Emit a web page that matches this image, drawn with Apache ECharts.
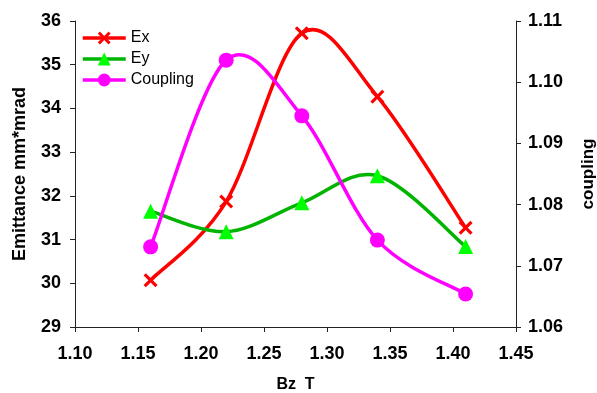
<!DOCTYPE html>
<html>
<head>
<meta charset="utf-8">
<script src="https://cdn.jsdelivr.net/npm/echarts@6/dist/echarts.min.js"></script>
<style>html,body{margin:0;padding:0;background:#fff;}#c{width:597px;height:393px;}</style>
</head>
<body>
<div id="c"></div>
<script>
const bz = [1.16, 1.22, 1.28, 1.34, 1.41];
const ex = [30.07, 31.87, 35.72, 34.27, 31.27];
const ey = [31.65, 31.18, 31.84, 32.46, 30.84];
const coupling = [1.0731, 1.1036, 1.0945, 1.0742, 1.0654];
const xTicks = [1.10, 1.15, 1.20, 1.25, 1.30, 1.35, 1.40, 1.45];

const pair = (xs, ys) => xs.map((x, i) => [x, ys[i]]);
const crossPath = 'path://M0,1.6L1.6,0L5,3.4L8.4,0L10,1.6L6.6,5L10,8.4L8.4,10L5,6.6L1.6,10L0,8.4L3.4,5Z';
const font = 'Arial, "Liberation Sans", sans-serif';
const LW = 3.5;

// Excel-like smoothed curve (Catmull-Rom style Bezier) drawn through the axis scales
function smoothCurve(name, data, color, yAxisIndex) {
  return {
    name: name + '_curve', type: 'custom', yAxisIndex: yAxisIndex, z: 1,
    data: data, encode: { x: 0, y: 1 }, silent: true,
    renderItem: function (params, api) {
      const i = params.dataIndex, n = data.length;
      if (i >= n - 1) return null;
      const P = data.map(d => api.coord(d));
      const p0 = P[Math.max(i - 1, 0)], p1 = P[i], p2 = P[i + 1], p3 = P[Math.min(i + 2, n - 1)];
      return {
        type: 'bezierCurve',
        shape: {
          x1: p1[0], y1: p1[1], x2: p2[0], y2: p2[1],
          cpx1: p1[0] + (p2[0] - p0[0]) / 6, cpy1: p1[1] + (p2[1] - p0[1]) / 6,
          cpx2: p2[0] - (p3[0] - p1[0]) / 6, cpy2: p2[1] - (p3[1] - p1[1]) / 6
        },
        style: { stroke: color, lineWidth: LW, fill: 'none', lineCap: 'round' }
      };
    }
  };
}

const chart = echarts.init(document.getElementById('c'));
chart.setOption({
  animation: false,
  backgroundColor: '#fff',
  textStyle: { fontFamily: font },
  grid: { left: 75, right: 81, top: 21, bottom: 66, outerBoundsMode: 'none', containLabel: false },
  legend: {
    orient: 'vertical', left: 76, top: 25,
    itemWidth: 43, itemHeight: 16, itemGap: 5,
    lineStyle: { opacity: 1, width: LW },
    textStyle: { fontSize: 16, color: '#000', fontFamily: font },
    data: ['Ex', 'Ey', 'Coupling']
  },
  xAxis: {
    type: 'value', min: xTicks[0], max: xTicks[xTicks.length - 1], interval: 0.05,
    name: 'Bz  T', nameLocation: 'middle', nameGap: 50,
    nameTextStyle: { fontSize: 16, fontWeight: 'bold', color: '#000', fontFamily: font },
    axisLine: { lineStyle: { color: '#222', width: 1 } },
    axisTick: { show: true, length: 5, lineStyle: { color: '#222' } },
    axisLabel: { margin: 18, fontSize: 18, fontWeight: 'bold', color: '#000', formatter: v => v.toFixed(2) },
    splitLine: { show: false }
  },
  yAxis: [{
    type: 'value', min: 29, max: 36, interval: 1, position: 'left',
    name: 'Emittance mm*mrad', nameLocation: 'middle', nameGap: 46, nameRotate: 90,
    nameTextStyle: { fontSize: 18, fontWeight: 'bold', color: '#000', fontFamily: font },
    axisLine: { show: true, lineStyle: { color: '#222', width: 1 } },
    axisTick: { show: true, length: 5, lineStyle: { color: '#222' } },
    axisLabel: { margin: 14, fontSize: 18, fontWeight: 'bold', color: '#000' },
    splitLine: { show: false }
  }, {
    type: 'value', min: 1.06, max: 1.11, interval: 0.01, position: 'right',
    name: 'coupling', nameLocation: 'middle', nameGap: 64, nameRotate: 90,
    nameTextStyle: { fontSize: 17, fontWeight: 'bold', color: '#000', fontFamily: font },
    axisLine: { show: true, lineStyle: { color: '#222', width: 1 } },
    axisTick: { show: true, length: 5, lineStyle: { color: '#222' } },
    axisLabel: { margin: 12, fontSize: 18, fontWeight: 'bold', color: '#000', formatter: v => v.toFixed(2) },
    splitLine: { show: false }
  }],
  series: [
    smoothCurve('Ex', pair(bz, ex), '#ff0000', 0),
    smoothCurve('Ey', pair(bz, ey), '#00b400', 0),
    smoothCurve('Coupling', pair(bz, coupling), '#ff00ff', 1),
    {
      name: 'Ex', type: 'line', yAxisIndex: 0, data: pair(bz, ex), z: 3,
      symbol: crossPath, symbolSize: 14,
      lineStyle: { color: '#ff0000', width: LW, opacity: 0 },
      itemStyle: { color: '#ff0000' }
    }, {
      name: 'Ey', type: 'line', yAxisIndex: 0, data: pair(bz, ey), z: 3,
      symbol: 'triangle', symbolSize: 15,
      lineStyle: { color: '#00b400', width: LW, opacity: 0 },
      itemStyle: { color: '#00ff00' }
    }, {
      name: 'Coupling', type: 'line', yAxisIndex: 1, data: pair(bz, coupling), z: 3,
      symbol: 'circle', symbolSize: 15,
      lineStyle: { color: '#ff00ff', width: LW, opacity: 0 },
      itemStyle: { color: '#ff00ff' }
    }
  ]
});
</script>
</body>
</html>
